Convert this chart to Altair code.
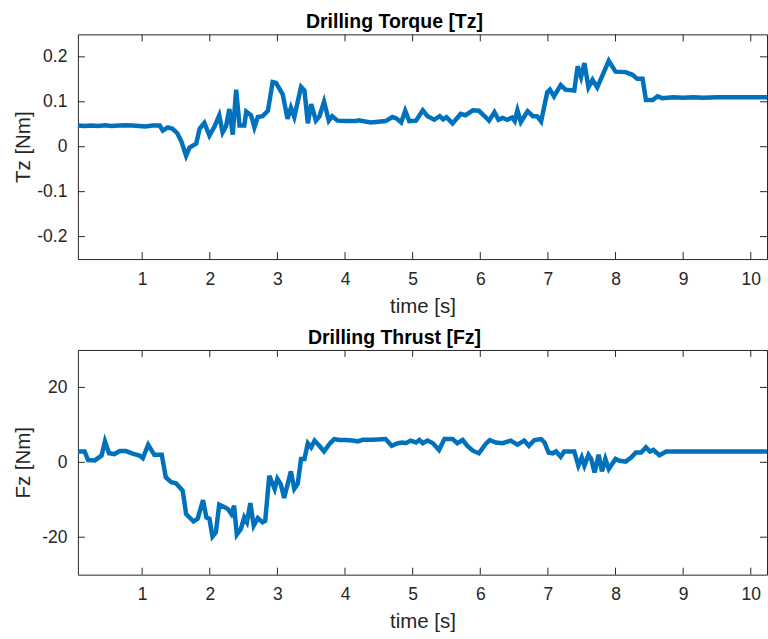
import altair as alt
import pandas as pd

# ---------------- data ----------------
t_tz = [0.05, 0.15, 0.25, 0.35, 0.45, 0.55, 0.65, 0.75, 0.85, 0.95, 1.05, 1.15, 1.26, 1.305,
        1.38, 1.45, 1.52, 1.58, 1.65, 1.70, 1.80, 1.85, 1.92, 1.995, 2.07, 2.14, 2.19, 2.24,
        2.29, 2.34, 2.39, 2.44, 2.51, 2.54, 2.61, 2.66, 2.71, 2.78, 2.86, 2.93, 2.98, 3.08,
        3.15, 3.20, 3.25, 3.35, 3.40, 3.45, 3.50, 3.57, 3.62, 3.69, 3.76, 3.81, 3.89, 4.00,
        4.16, 4.20, 4.38, 4.60, 4.70, 4.76, 4.83, 4.89, 4.95, 5.05, 5.15, 5.22, 5.32, 5.40,
        5.45, 5.50, 5.55, 5.59, 5.71, 5.78, 5.89, 5.98, 6.05, 6.13, 6.21, 6.27, 6.33, 6.40,
        6.47, 6.51, 6.55, 6.60, 6.70, 6.78, 6.84, 6.90, 6.99, 7.03, 7.09, 7.19, 7.26, 7.39,
        7.44, 7.49, 7.54, 7.60, 7.66, 7.73, 7.90, 8.00, 8.15, 8.25, 8.32, 8.40, 8.45, 8.55,
        8.62, 8.69, 8.85, 9.00, 9.15, 9.30, 9.50, 9.70, 10.00, 10.24]
tz = [0.047, 0.046, 0.047, 0.046, 0.048, 0.046, 0.047, 0.048, 0.047, 0.046, 0.045, 0.047,
      0.047, 0.036, 0.043, 0.040, 0.030, 0.012, -0.020, -0.002, 0.007, 0.040, 0.053, 0.025,
      0.045, 0.070, 0.032, 0.045, 0.084, 0.027, 0.127, 0.047, 0.047, 0.078, 0.070, 0.043,
      0.066, 0.068, 0.080, 0.144, 0.142, 0.116, 0.062, 0.087, 0.066, 0.133, 0.125, 0.052,
      0.095, 0.058, 0.067, 0.100, 0.058, 0.068, 0.058, 0.057, 0.057, 0.059, 0.054, 0.057,
      0.066, 0.063, 0.054, 0.080, 0.057, 0.058, 0.081, 0.068, 0.060, 0.068, 0.061, 0.066,
      0.058, 0.052, 0.073, 0.070, 0.081, 0.080, 0.070, 0.058, 0.077, 0.060, 0.064, 0.060,
      0.065, 0.057, 0.081, 0.055, 0.079, 0.068, 0.068, 0.056, 0.121, 0.127, 0.112, 0.137,
      0.127, 0.125, 0.179, 0.155, 0.186, 0.132, 0.149, 0.132, 0.191, 0.167, 0.166, 0.160,
      0.151, 0.151, 0.104, 0.104, 0.112, 0.108, 0.110, 0.109, 0.110, 0.109, 0.110, 0.110,
      0.110, 0.110]

t_fz = [0.05, 0.15, 0.20, 0.30, 0.40, 0.45, 0.51, 0.59, 0.67, 0.76, 0.86, 0.96, 1.01, 1.09,
        1.18, 1.29, 1.35, 1.43, 1.50, 1.60, 1.65, 1.76, 1.82, 1.90, 1.95, 1.995, 2.04, 2.09,
        2.14, 2.22, 2.27, 2.32, 2.36, 2.40, 2.46, 2.51, 2.55, 2.60, 2.65, 2.71, 2.78, 2.82,
        2.88, 2.96, 3.00, 3.05, 3.10, 3.20, 3.25, 3.30, 3.35, 3.40, 3.45, 3.50, 3.55, 3.62,
        3.69, 3.77, 3.84, 3.92, 4.01, 4.11, 4.19, 4.26, 4.41, 4.60, 4.69, 4.78, 4.85, 4.90,
        4.97, 5.05, 5.10, 5.15, 5.22, 5.30, 5.39, 5.47, 5.59, 5.66, 5.74, 5.81, 5.89, 5.98,
        6.08, 6.14, 6.23, 6.33, 6.45, 6.55, 6.65, 6.72, 6.80, 6.90, 6.95, 7.01, 7.07, 7.12,
        7.19, 7.24, 7.39, 7.45, 7.50, 7.54, 7.60, 7.64, 7.69, 7.75, 7.80, 7.85, 7.90, 8.00,
        8.06, 8.15, 8.23, 8.30, 8.38, 8.45, 8.51, 8.56, 8.65, 8.75, 9.00, 9.50, 10.00, 10.24]
fz = [2.9, 2.9, 0.6, 0.5, 1.8, 5.6, 2.4, 2.2, 3.0, 3.0, 2.3, 1.8, 1.1, 4.7,
      2.0, 2.0, -4.0, -5.3, -5.6, -7.6, -13.8, -15.8, -15.1, -10.1, -14.7, -15.1, -19.8, -18.7,
      -11.3, -12.0, -12.5, -13.8, -11.6, -19.3, -17.8, -14.7, -16.0, -10.9, -16.9, -14.9, -16.0, -15.6,
      -3.6, -7.1, -4.4, -5.8, -9.5, -2.4, -7.1, -5.8, 0.9, 0.9, 5.1, 4.0, 5.8, 4.4,
      2.9, 4.9, 6.2, 5.95, 5.95, 5.8, 5.6, 6.0, 6.0, 6.2, 4.4, 5.1, 5.3, 5.1,
      5.8, 5.3, 5.95, 5.1, 5.8, 5.1, 3.3, 6.2, 6.2, 5.1, 5.95, 4.4, 3.1, 2.4,
      4.9, 5.95, 5.3, 5.1, 5.8, 4.7, 5.8, 4.4, 5.95, 6.2, 5.3, 2.6, 2.4, 2.9,
      1.5, 2.9, 2.9, -0.9, 1.3, -0.9, 2.0, 0.9, -2.7, 2.0, -2.4, 0.9, -1.8, 0.9,
      0.4, 0.2, 1.3, 2.6, 2.6, 4.0, 2.9, 3.3, 1.9, 2.9, 2.9, 2.9, 2.9, 2.9]

x_ticks = [1, 2, 3, 4, 5, 6, 7, 8, 9, 10]
tz_ticks = [-0.2, -0.1, 0, 0.1, 0.2]
fz_ticks = [-20, 0, 20]
x_domain = [0.05, 10.24]
tz_domain = [-0.25, 0.25]
fz_domain = [-30, 30]

# ---------------- style ----------------
W, H = 690, 225
FONT = "Liberation Sans"
AX = "#262626"
LINE = "#0072BD"
TICK_LEN = 7


def panel(t, v, ticks_y, ydom, yfmt, ylab, title):
    df = pd.DataFrame({"t": t, "v": v})
    xs = alt.Scale(domain=x_domain, nice=False, zero=False)
    ys = alt.Scale(domain=ydom, nice=False, zero=False)
    line = alt.Chart(df).mark_line(color=LINE, strokeWidth=4.5, clip=True).encode(
        x=alt.X("t:Q", scale=xs,
                axis=alt.Axis(values=x_ticks, format="d", title="time [s]", titleX=W / 2,
                              titleY=53, titleBaseline="alphabetic", titleAlign="center")),
        y=alt.Y("v:Q", scale=ys,
                axis=alt.Axis(values=ticks_y, format=yfmt, title=ylab, titleX=-48,
                              titleY=H / 2, titleAngle=-90, titleBaseline="alphabetic",
                              titleAlign="center",
                              labelExpr="replace(datum.label, '\u2212', '-')")),
    )
    dx = pd.DataFrame({"t": x_ticks})
    dy = pd.DataFrame({"v": ticks_y})
    tick_style = dict(color=AX, strokeWidth=1)
    bx = alt.Chart(dx).mark_rule(**tick_style).encode(
        x=alt.X("t:Q", scale=xs), y=alt.value(H), y2=alt.value(H - TICK_LEN))
    tx = alt.Chart(dx).mark_rule(**tick_style).encode(
        x=alt.X("t:Q", scale=xs), y=alt.value(0), y2=alt.value(TICK_LEN))
    ly = alt.Chart(dy).mark_rule(**tick_style).encode(
        y=alt.Y("v:Q", scale=ys), x=alt.value(0), x2=alt.value(TICK_LEN))
    ry = alt.Chart(dy).mark_rule(**tick_style).encode(
        y=alt.Y("v:Q", scale=ys), x=alt.value(W - TICK_LEN), x2=alt.value(W))
    return alt.layer(line, bx, tx, ly, ry).properties(
        width=W, height=H,
        title=alt.TitleParams(title, font=FONT, fontSize=19.5, fontWeight="bold",
                              color="black", anchor="middle", dx=-28, offset=-18,
                              baseline="bottom"),
    )


top = panel(t_tz, tz, tz_ticks, tz_domain, ".1~f", "Tz [Nm]", "Drilling Torque [Tz]")
bottom = panel(t_fz, fz, fz_ticks, fz_domain, "d", "Fz [Nm]", "Drilling Thrust [Fz]")

chart = alt.vconcat(top, bottom, spacing=10).properties(
    padding={"left": 13, "top": 11, "right": 0, "bottom": 4},
    background="white",
).configure_view(stroke=AX, strokeWidth=1).configure_axis(
    grid=False, domain=False, ticks=False, labelFont=FONT, titleFont=FONT,
    labelFontSize=17.5, titleFontSize=20.5, labelColor=AX, titleColor=AX,
    titleFontWeight="normal", labelPadding=11,
)

chart.save("out.html", embed_options={"renderer": "svg", "actions": False})
